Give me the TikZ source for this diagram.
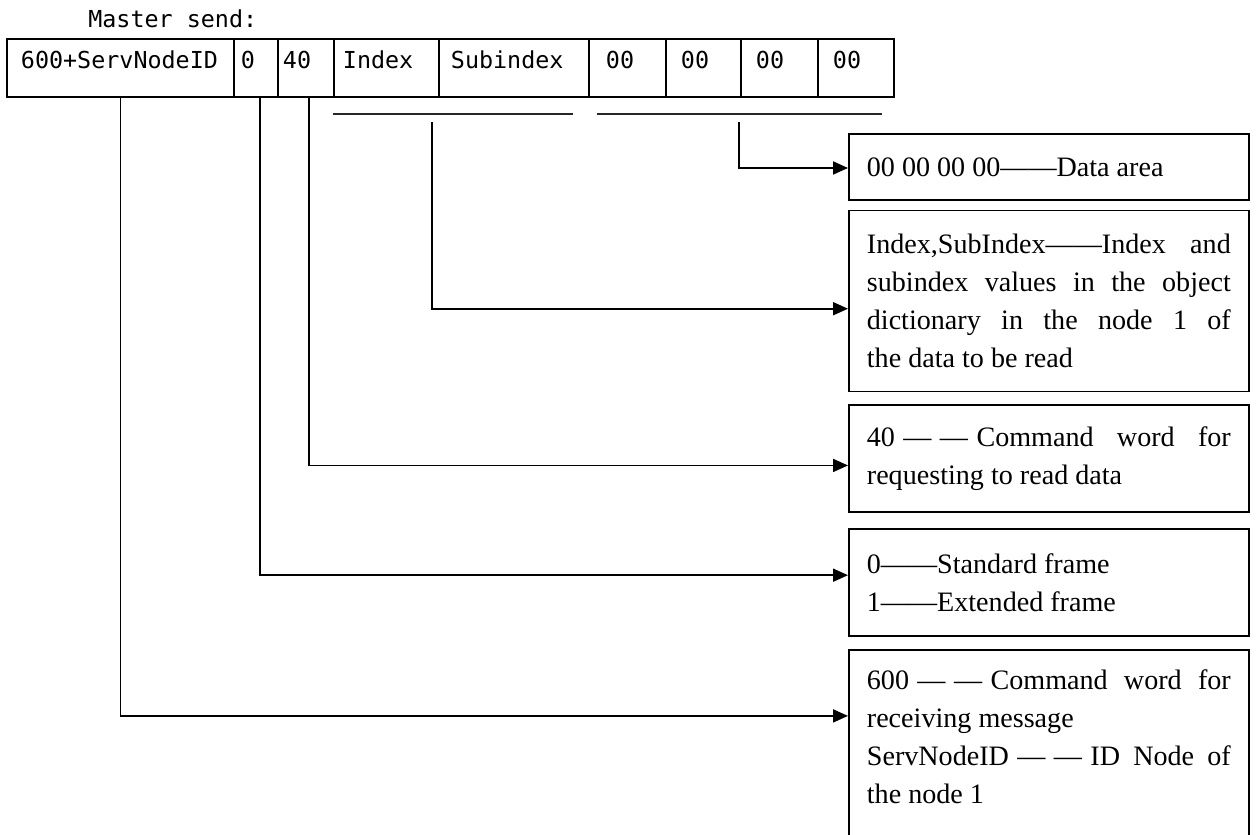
\documentclass[tikz,border=0pt]{standalone}
\usepackage{fontspec}
\usetikzlibrary{positioning, arrows.meta}

\newfontfamily\cellfont{DejaVu Sans Mono}
\newfontfamily\notefont{Liberation Serif}
\newcommand{\spdash}{\hspace{0.3em}—\hspace{0.3em}—\hspace{0.3em}}
\setlength{\parindent}{0pt}

\begin{document}
\begin{tikzpicture}[
	x=0.02cm, y=-0.02cm,
	% Frame table style
	cell/.style={draw, line width=1.1pt, minimum height=1.16cm, align=left, inner ysep=0pt,
		text height=0.34cm, text depth=0.32cm, font=\cellfont\fontsize{13.3}{15}\selectfont},
	% Explanation boxes
	note/.style={draw, line width=1pt, text width=7.28cm, align=justify,
		inner xsep=0.36cm, inner ysep=0.4cm, font=\notefont\fontsize{16}{21.6}\selectfont\sloppy},
	% Connectors
	conn/.style={line width=1.05pt, -{Triangle[length=0.3cm, width=0.26cm]}},
	bracket/.style={line width=0.6pt, black!85}
	]
	
	\clip (0,0) rectangle (1256,834);
	
	% ==============================================================================
	% MESSAGE FRAME
	% ==============================================================================
	\node[anchor=base west, inner sep=0pt, font=\cellfont\fontsize{13.3}{15}\selectfont] (title) at (88,28) {Master send:};
	
	\foreach \l/\r/\p/\t [count=\i] in {6/233/14/600+ServNodeID, 233/277/7/0, 277/333/5/40,
		333/438/9/Index, 438/588/12/Subindex, 588/665/17/00, 665/740/15/00, 740/817/15/00, 817/893/15/00}{
		\pgfmathsetmacro\cw{(\r-\l)*0.02}
		\pgfmathsetmacro\tw{(\r-\l-2*\p)*0.02}
		\pgfmathsetmacro\ps{\p*0.02}
		\node[cell, minimum width=\cw cm, text width=\tw cm, inner xsep=\ps cm, anchor=north west] (c\i) at (\l,38) {\t};
	}
	
	% Grouping lines under index and data bytes
	\draw[bracket] (333,114) -- (573,114);
	\draw[bracket] (597,114) -- (882,114);
	\coordinate (idx) at (432,122);
	\coordinate (dat) at (739,122);
	
	% ==============================================================================
	% EXPLANATIONS
	% ==============================================================================
	\node[note, minimum height=1.32cm, anchor=north west] (b1) at (848,133) {00 00 00 00——Data area};
	\node[note, minimum height=3.62cm, below=0.18cm of b1] (b2) {Index,SubIndex——Index and\linebreak subindex values in the object\linebreak dictionary in the node 1 of\linebreak the data to be read};
	\node[note, minimum height=2.14cm, below=0.24cm of b2] (b3) {40\spdash Command word for\linebreak requesting to read data};
	\node[note, minimum height=2.14cm, below=0.3cm of b3] (b4) {0——Standard frame\par 1——Extended frame};
	\node[note, below=0.24cm of b4] (b5) {600\spdash Command word for\linebreak receiving message\par ServNodeID\spdash ID Node of\linebreak the node 1\par\rule{0pt}{1.2cm}};
	
	% Connectors
	\draw[conn] (dat) |- ([yshift=-0.7cm]b1.north west);
	\draw[conn] (idx) |- ([yshift=-1.98cm]b2.north west);
	\draw[conn] ([xshift=0.06cm]c3.south) |- ([yshift=-1.22cm]b3.north west);
	\draw[conn] ([xshift=0.08cm]c2.south) |- ([yshift=-0.94cm]b4.north west);
	\draw[conn] (c1.south) |- ([yshift=-1.34cm]b5.north west);
	
\end{tikzpicture}
\end{document}
